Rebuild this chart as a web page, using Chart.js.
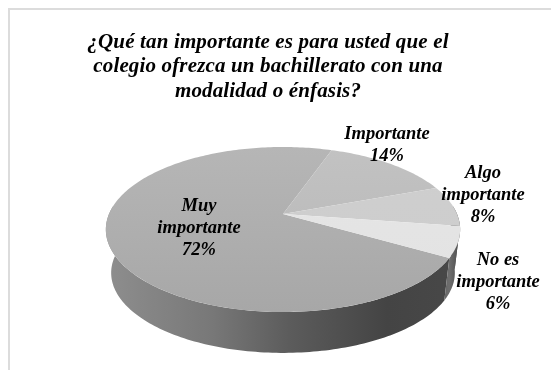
<!DOCTYPE html>
<html lang="es">
<head>
<meta charset="utf-8">
<title>Importancia del bachillerato con modalidad</title>
<script src="https://cdn.jsdelivr.net/npm/chart.js@4"></script>
<style>
  html, body { margin: 0; padding: 0; background: #fff; }
  #wrap { position: relative; width: 551px; height: 370px; overflow: hidden; }
  #frame { position: absolute; left: 8px; top: 8px; width: 560px; height: 380px; border: 2px solid #dcdcdc; }
  canvas { position: absolute; left: 0; top: 0; }
</style>
</head>
<body>
<div id="wrap">
  <div id="frame"></div>
  <canvas id="chart" width="551" height="370"></canvas>
</div>
<script>
'use strict';

const categories = ['Muy importante', 'Importante', 'Algo importante', 'No es importante'];
const values = [72, 14, 8, 6];
const titleLines = [
  '¿Qué tan importante es para usted que el',
  'colegio ofrezca un bachillerato con una',
  'modalidad o énfasis?'
];
const labelLines = [
  ['Muy', 'importante'],
  ['Importante'],
  ['Algo', 'importante'],
  ['No es', 'importante']
];
const sliceColors = ['#adadad', '#bdbdbd', '#cecece', '#e4e4e4'];
const sliceShade = [['#b6b6b6', '#a7a7a7'], ['#c2c2c2', '#b6b6b6'], ['#cfcfcf', '#cccccc'], ['#e6e6e6', '#e2e2e2']];

// ===== TILTED DISC GEOMETRY =====
const disc = { x: 283, y: 214, rx: 174, ry: 79.6, tilt: 0.188, depth: 43.8, shrink: 0.03 };
const labelPos = [
  { x: 199, y: 206 },
  { x: 387, y: 134 },
  { x: 483, y: 173 },
  { x: 498, y: 260 }
];
const LABEL_LINE = 22;

// Rim point for a chart angle (0 = right, clockwise); level 1 is the bottom of the wall
function rimPoint(angle, level) {
  const cx = Math.cos(angle);
  const cy = Math.sin(angle);
  const w = 1 - disc.tilt * cy;
  const k = 1 - disc.shrink * level;
  return {
    x: disc.x + disc.rx * cx / w * k,
    y: disc.y + disc.ry * cy / w * k + disc.depth * level
  };
}

function traceRim(ctx, from, to, level) {
  const steps = Math.max(4, Math.ceil(Math.abs(to - from) / 0.02));
  for (let i = 0; i <= steps; i++) {
    const p = rimPoint(from + (to - from) * i / steps, level);
    ctx.lineTo(p.x, p.y);
  }
}

function wallFill(ctx, index) {
  const g = ctx.createLinearGradient(106, 0, 458, 0);
  if (index === 3) {
    g.addColorStop(0.95, '#5e5e5e');
    g.addColorStop(0.975, '#6e6e6e');
    g.addColorStop(1, '#505050');
  } else {
    g.addColorStop(0, '#8e8e8e');
    g.addColorStop(0.3, '#787878');
    g.addColorStop(0.52, '#5c5c5c');
    g.addColorStop(0.8, '#444444');
    g.addColorStop(1, '#484848');
  }
  return g;
}

function topFill(ctx, index) {
  const g = ctx.createLinearGradient(0, 147, 0, 312);
  g.addColorStop(0, sliceShade[index][0]);
  g.addColorStop(1, sliceShade[index][1]);
  return g;
}

const pie3d = {
  id: 'pie3d',
  beforeDraw(chart) {
    chart.ctx.letterSpacing = '0.15px';
  },
  // The arcs keep the angles the pie controller worked out, only their shape changes
  beforeDatasetDraw(chart, args) {
    const ctx = chart.ctx;
    const arcs = args.meta.data;

    // wall first, the top surface covers whatever is behind it
    arcs.forEach((arc, i) => {
      [[arc.startAngle, arc.endAngle], [arc.startAngle - 2 * Math.PI, arc.endAngle - 2 * Math.PI]].forEach(([a, b]) => {
        const s = Math.max(a, -0.1);
        const e = Math.min(b, Math.PI + 0.1);
        if (e <= s) return;
        ctx.beginPath();
        traceRim(ctx, s, e, 0);
        traceRim(ctx, e, s, 1);
        ctx.closePath();
        ctx.fillStyle = wallFill(ctx, i);
        ctx.fill();
      });
    });

    arcs.forEach((arc, i) => {
      ctx.beginPath();
      ctx.moveTo(disc.x, disc.y);
      traceRim(ctx, arc.startAngle, arc.endAngle, 0);
      ctx.closePath();
      ctx.fillStyle = topFill(ctx, i);
      ctx.fill();
    });
    return false;
  },
  afterDatasetsDraw(chart) {
    const ctx = chart.ctx;
    ctx.save();
    ctx.fillStyle = '#000';
    ctx.font = 'italic bold 18.5px "Liberation Serif"';
    ctx.letterSpacing = '0px';
    ctx.textAlign = 'center';
    ctx.textBaseline = 'middle';
    values.forEach((v, i) => {
      const lines = labelLines[i].concat(v + '%');
      lines.forEach((line, n) => {
        ctx.fillText(line, labelPos[i].x, labelPos[i].y + n * LABEL_LINE);
      });
    });
    ctx.restore();
  }
};

new Chart(document.getElementById('chart'), {
  type: 'pie',
  data: {
    labels: categories,
    datasets: [{ data: values, backgroundColor: sliceColors, borderWidth: 0 }]
  },
  options: {
    responsive: false,
    animation: false,
    rotation: 120,
    layout: { padding: { right: 15 } },
    plugins: {
      legend: { display: false },
      tooltip: { enabled: false },
      title: {
        display: true,
        fullSize: false,
        text: titleLines,
        color: '#000',
        font: { family: '"Liberation Serif"', size: 21, style: 'italic', weight: 'bold', lineHeight: 1.17 },
        padding: { top: 30, bottom: 0 }
      }
    }
  },
  plugins: [pie3d]
});
</script>
</body>
</html>
